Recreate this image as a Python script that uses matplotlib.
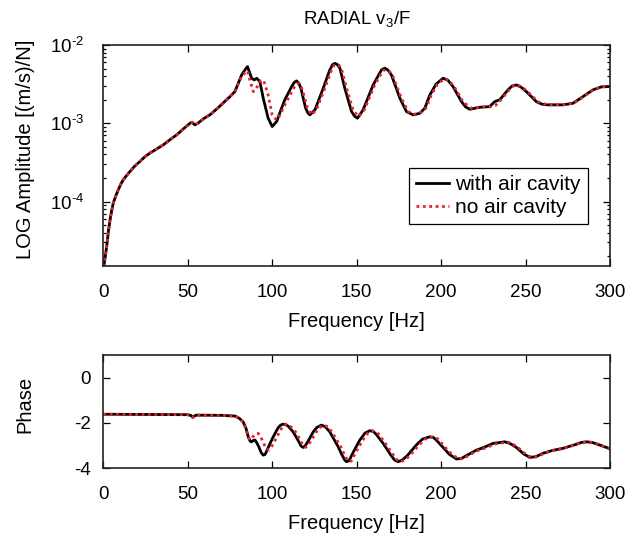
import numpy as np
import matplotlib
matplotlib.use("Agg")
import matplotlib.pyplot as plt
from matplotlib.ticker import LogLocator, NullFormatter, FuncFormatter

plt.rcParams['font.family'] = ['Liberation Sans', 'DejaVu Sans']
plt.rcParams['mathtext.fontset'] = 'custom'
plt.rcParams['mathtext.rm'] = 'Liberation Sans'
plt.rcParams['mathtext.it'] = 'Liberation Sans:italic'
plt.rcParams['axes.unicode_minus'] = False

##################
# Data
##################
# magnitude, with air cavity
freq_mag_air = [0, 0.5, 1.0, 2.0, 3.0, 4.0, 5.0, 5.9, 7.3, 8.9, 10.3, 11.8, 13.7, 15.8, 18.5, 21.7,
                24.5, 27.6, 31.5, 35.5, 39.5, 43.4, 47.5, 51.3, 52.5, 53.5, 54.3, 56.0, 59.5, 63.1,
                68.0, 73.0, 75.0, 77.9, 81.9, 83.8, 85.4, 86.6, 87.8, 89.4, 90.8, 92.7, 94.7, 97.6,
                100.0, 102.6, 105.0, 107.5, 111.5, 113.2, 114.4, 115.8, 117.0, 119.8, 121.2, 122.3,
                125.3, 130.2, 134.1, 135.8, 137.1, 138.6, 140.1, 143.0, 147.0, 148.8, 150.5, 153.8,
                159.8, 164.7, 166.7, 168.5, 170.6, 175.6, 179.5, 183.4, 187.4, 190.4, 193.3, 197.0,
                201.2, 204.0, 207.1, 212.1, 214.5, 217.0, 222.9, 228.8, 230.5, 231.8, 234.7, 239.6,
                242.0, 244.6, 247.5, 250.5, 256.4, 259.5, 262.4, 272.2, 278.1, 284.0, 289.9, 295.0,
                300.0]
mag_air = [1.0e-5, 1.6e-5, 1.9e-5, 2.67e-5, 4.17e-5, 5.86e-5, 7.76e-5, 9.57e-5, 1.17e-4, 1.42e-4,
           1.66e-4, 1.90e-4, 2.14e-4, 2.42e-4, 2.82e-4, 3.25e-4, 3.72e-4, 4.16e-4, 4.68e-4, 5.30e-4,
           6.17e-4, 7.11e-4, 8.51e-4, 1.00e-3, 1.03e-3, 9.8e-4, 9.55e-4, 1.00e-3, 1.15e-3, 1.28e-3,
           1.58e-3, 2.00e-3, 2.19e-3, 2.54e-3, 4.14e-3, 4.79e-3, 5.30e-3, 4.47e-3, 3.76e-3, 3.58e-3,
           3.76e-3, 3.40e-3, 2.09e-3, 1.16e-3, 9.08e-4, 1.05e-3, 1.45e-3, 2.00e-3, 2.94e-3, 3.35e-3,
           3.48e-3, 3.24e-3, 2.80e-3, 1.56e-3, 1.35e-3, 1.28e-3, 1.48e-3, 2.80e-3, 4.80e-3, 5.62e-3,
           5.83e-3, 5.62e-3, 5.05e-3, 2.80e-3, 1.41e-3, 1.23e-3, 1.16e-3, 1.48e-3, 3.09e-3, 4.80e-3,
           5.05e-3, 4.79e-3, 4.14e-3, 2.09e-3, 1.41e-3, 1.28e-3, 1.34e-3, 1.56e-3, 2.29e-3, 3.16e-3,
           3.76e-3, 3.55e-3, 2.94e-3, 1.89e-3, 1.62e-3, 1.51e-3, 1.60e-3, 1.63e-3, 1.78e-3, 1.89e-3,
           1.99e-3, 2.67e-3, 2.99e-3, 3.09e-3, 2.88e-3, 2.54e-3, 1.89e-3, 1.76e-3, 1.72e-3, 1.72e-3,
           1.80e-3, 2.19e-3, 2.67e-3, 2.92e-3, 2.95e-3]

# magnitude, no air cavity
freq_mag_noair = [0, 0.5, 1.0, 2.0, 3.0, 4.0, 5.0, 5.9, 7.3, 8.9, 10.3, 11.8, 13.7, 15.8, 18.5, 21.7,
                  24.5, 27.6, 31.5, 35.5, 39.5, 43.4, 47.5, 51.3, 52.5, 53.5, 54.3, 56.0, 59.5, 63.1,
                  68.0, 73.0, 75.0, 77.9, 81.9, 83.8, 85.4, 86.8, 88.8, 90.2, 91.7, 93.4, 94.7, 96.0,
                  97.6, 100.0, 102.6, 104.5, 107.5, 111.5, 114.0, 115.4, 117.0, 118.5, 120.8, 123.3,
                  126.3, 131.2, 135.1, 136.8, 138.1, 139.6, 141.1, 144.0, 148.0, 151.3, 154.7, 160.7,
                  165.6, 167.7, 169.5, 171.5, 176.5, 180.5, 184.4, 188.3, 191.2, 194.2, 197.8, 202.0,
                  205.0, 208.0, 213.0, 218.0, 224.0, 229.0, 232.4, 235.5, 240.5, 243.0, 245.5, 248.5,
                  251.5, 257.5, 263.0, 272.5, 278.5, 284.5, 290.0, 295.0, 300.0]
mag_noair = [1.0e-5, 1.6e-5, 1.9e-5, 2.67e-5, 4.17e-5, 5.86e-5, 7.76e-5, 9.57e-5, 1.17e-4, 1.42e-4,
             1.66e-4, 1.90e-4, 2.14e-4, 2.42e-4, 2.82e-4, 3.25e-4, 3.72e-4, 4.16e-4, 4.68e-4, 5.30e-4,
             6.17e-4, 7.11e-4, 8.51e-4, 1.00e-3, 1.03e-3, 9.8e-4, 9.55e-4, 1.00e-3, 1.15e-3, 1.28e-3,
             1.58e-3, 2.00e-3, 2.19e-3, 2.54e-3, 4.00e-3, 4.37e-3, 4.68e-3, 3.55e-3, 2.54e-3, 2.69e-3,
             3.09e-3, 3.51e-3, 3.58e-3, 3.02e-3, 2.29e-3, 1.28e-3, 1.10e-3, 1.26e-3, 1.72e-3, 2.51e-3,
             3.16e-3, 3.24e-3, 3.02e-3, 2.40e-3, 1.58e-3, 1.28e-3, 1.51e-3, 2.82e-3, 4.79e-3, 5.56e-3,
             5.68e-3, 5.50e-3, 4.90e-3, 2.82e-3, 1.45e-3, 1.22e-3, 1.51e-3, 3.09e-3, 4.73e-3, 4.80e-3,
             4.57e-3, 3.98e-3, 2.09e-3, 1.41e-3, 1.30e-3, 1.38e-3, 1.58e-3, 2.29e-3, 3.16e-3, 3.72e-3,
             3.47e-3, 2.88e-3, 1.88e-3, 1.55e-3, 1.62e-3, 1.62e-3, 1.70e-3, 2.00e-3, 2.69e-3, 3.02e-3,
             3.09e-3, 2.85e-3, 2.51e-3, 1.88e-3, 1.72e-3, 1.72e-3, 1.80e-3, 2.19e-3, 2.66e-3, 2.92e-3,
             2.95e-3]

# phase, with air cavity
freq_ph_air = [0, 50, 52, 53, 54, 55, 70, 78, 80.5, 82.8, 84.5, 85.8, 87, 87.8, 88.8, 89.8, 91, 92,
               93.5, 94.7, 95.8, 97, 98.8, 100.6, 103.5, 105, 106.5, 108, 109.5, 112.4, 115.5, 117,
               118.3, 119.5, 121, 124.3, 126.5, 129.2, 131.5, 134.1, 139, 141.5, 143, 144, 145.5, 148,
               151.9, 155, 157.8, 159.8, 161.5, 165.7, 170, 172.5, 174.6, 177, 180, 185.4, 189, 193.3,
               195.5, 197, 201.2, 205, 209.1, 212, 215, 220.9, 225, 230.8, 234, 237.7, 241, 244.6,
               249, 252.5, 256, 260.4, 266, 272.2, 280, 283, 286, 289.5, 293.9, 300]
ph_air = [-1.62, -1.64, -1.68, -1.76, -1.70, -1.66, -1.67, -1.70, -1.80, -1.96, -2.25, -2.62, -2.82,
          -2.84, -2.78, -2.76, -2.90, -3.05, -3.32, -3.43, -3.40, -3.20, -2.90, -2.62, -2.22, -2.10,
          -2.06, -2.08, -2.15, -2.40, -2.80, -3.02, -3.09, -3.02, -2.85, -2.40, -2.20, -2.10, -2.18,
          -2.40, -3.05, -3.45, -3.65, -3.72, -3.68, -3.30, -2.76, -2.45, -2.35, -2.38, -2.50, -2.91,
          -3.40, -3.65, -3.72, -3.65, -3.45, -2.98, -2.72, -2.62, -2.65, -2.75, -3.09, -3.40, -3.60,
          -3.58, -3.45, -3.21, -3.10, -2.91, -2.88, -2.84, -2.92, -3.09, -3.38, -3.53, -3.50, -3.35,
          -3.22, -3.13, -2.95, -2.87, -2.84, -2.87, -2.98, -3.15]

# phase, no air cavity
freq_ph_noair = [0, 50, 52, 53, 54, 55, 70, 78, 80.5, 82.8, 84.5, 85.5, 86.5, 87.5, 88.5, 89.5, 90.6,
                 91.7, 92.8, 94, 95.8, 97.6, 98.8, 100.5, 104, 106, 108, 109.5, 111, 114, 117, 118.5,
                 119.8, 121, 122.5, 126, 128, 130.5, 133, 135.5, 140.5, 143, 144.5, 145.5, 147, 149.5,
                 153.5, 156.5, 159.3, 161.3, 163, 167, 171.5, 174, 176, 178.5, 181.5, 187, 190.5, 194.8,
                 197, 198.5, 202.5, 206.5, 210.5, 213.5, 216, 222, 226, 232, 235.5, 239, 242, 245.5,
                 250, 253.5, 257, 261, 266.5, 272.5, 280.5, 283.5, 286.5, 290, 294, 300]
ph_noair = [-1.62, -1.64, -1.68, -1.76, -1.70, -1.66, -1.67, -1.70, -1.80, -1.96, -2.25, -2.55, -2.72,
            -2.75, -2.62, -2.55, -2.48, -2.47, -2.55, -2.75, -3.05, -3.21, -3.15, -2.95, -2.45, -2.18,
            -2.06, -2.08, -2.17, -2.42, -2.82, -3.02, -3.09, -3.02, -2.85, -2.42, -2.22, -2.10, -2.18,
            -2.42, -3.05, -3.45, -3.65, -3.72, -3.68, -3.30, -2.78, -2.47, -2.35, -2.38, -2.50, -2.91,
            -3.40, -3.65, -3.72, -3.65, -3.45, -2.98, -2.72, -2.62, -2.65, -2.75, -3.09, -3.40, -3.60,
            -3.58, -3.45, -3.22, -3.12, -2.94, -2.90, -2.84, -2.92, -3.09, -3.38, -3.53, -3.50, -3.35,
            -3.22, -3.13, -2.95, -2.87, -2.84, -2.87, -2.98, -3.15]

LABELS = ['with air cavity', 'no air cavity']
XTICKS = [0, 50, 100, 150, 200, 250, 300]
RED = '#e8212b'
FS_TICK = 13.5
FS_LABEL = 14.5
FS_LEG = 15


def log_label(v, pos):
    # matlab style 10^-3 with a plain hyphen
    e = int(round(np.log10(v)))
    sign = '-' if e < 0 else ''
    return r'10$^{\text{%s%d}}$' % (sign, abs(e))


fig = plt.figure(figsize=(6.27, 5.39), dpi=100)
ax1 = fig.add_axes([0.1648, 0.5065, 0.808, 0.41])
ax2 = fig.add_axes([0.1648, 0.1317, 0.808, 0.2096])

ax1.plot(freq_mag_air, mag_air, color='black', lw=2, label=LABELS[0])
ax1.plot(freq_mag_noair, mag_noair, color=RED, lw=2, ls=(0, (1, 1.3)), label=LABELS[1])
ax1.set_yscale('log')
ax1.set_ylim(1.5e-5, 1e-2)
ax1.set_xlim(0, 300)
ax1.yaxis.set_major_locator(LogLocator(base=10, numticks=10))
ax1.yaxis.set_major_formatter(FuncFormatter(log_label))
ax1.yaxis.set_minor_locator(LogLocator(base=10, subs=np.arange(2, 10), numticks=10))
ax1.yaxis.set_minor_formatter(NullFormatter())
ax1.set_title('RADIAL v$_3$/F', fontsize=FS_TICK, pad=15)
ax1.set_ylabel('LOG Amplitude [(m/s)/N]', fontsize=FS_LABEL)
ax1.yaxis.set_label_coords(-0.135, 0.53)
ax1.set_xlabel('Frequency [Hz]', fontsize=FS_LABEL, labelpad=8)
leg = ax1.legend(loc='upper right', bbox_to_anchor=(0.957, 0.445), fontsize=FS_LEG,
                 fancybox=False, framealpha=1, edgecolor='black', borderpad=0.35,
                 handlelength=1.55, handletextpad=0.32, borderaxespad=0, labelspacing=0.2)
leg.get_frame().set_linewidth(0.9)

ax2.plot(freq_ph_air, ph_air, color='black', lw=2)
ax2.plot(freq_ph_noair, ph_noair, color=RED, lw=2, ls=(0, (1, 1.3)))
ax2.set_xlim(0, 300)
ax2.set_ylim(-4, 1)
ax2.set_yticks([0, -2, -4])
ax2.set_ylabel('Phase', fontsize=FS_LABEL)
ax2.yaxis.set_label_coords(-0.137, 0.566)
ax2.set_xlabel('Frequency [Hz]', fontsize=FS_LABEL, labelpad=8)

for ax in (ax1, ax2):
    ax.set_xticks(XTICKS)
    ax.tick_params(which='both', direction='in', top=True, right=True, labelsize=FS_TICK, width=0.9)
    ax.tick_params(which='major', length=5)
    ax.tick_params(which='minor', length=2.5)
    ax.tick_params(axis='x', which='major', pad=13)
    for s in ax.spines.values():
        s.set_linewidth(1.2)
        s.set_color('#222222')
ax1.tick_params(axis='y', which='major', pad=14)
ax2.tick_params(axis='y', which='major', pad=9)

fig.savefig('out.png', dpi=100)
